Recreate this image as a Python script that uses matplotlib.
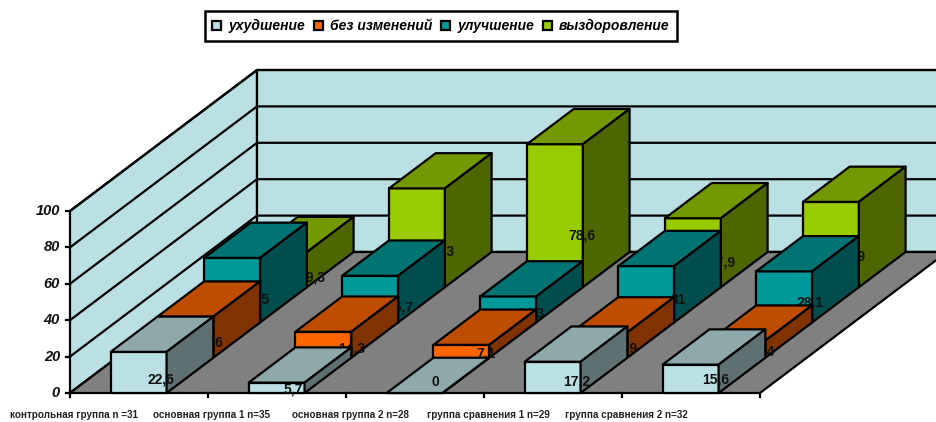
import matplotlib
matplotlib.use("Agg")
import matplotlib.pyplot as plt
from matplotlib.patches import Patch, Polygon


categories = ["контрольная группа n =31", "основная группа 1 n=35", "основная группа 2 n=28",
              "группа сравнения 1 n=29", "группа сравнения 2 n=32"]
series_names = ["ухудшение", "без изменений", "улучшение", "выздоровление"]
worse = [22.6, 5.7, 0, 17.2, 15.6]
same = [22.6, 14.3, 7.1, 13.9, 9.4]
better = [35.5, 25.7, 14.3, 31, 28.1]
recovery = [19.3, 54.3, 78.6, 37.9, 46.9]
y_ticks = [0, 20, 40, 60, 80, 100]

# pixel geometry of the oblique 3d box
X0, Y0 = 70, 393
CAT_W = 138
UNIT_H = 1.82
DEPTH_X, DEPTH_Y = 187 / 4, 141 / 4
BAR_START, BAR_W = 0.295, 0.405
LINE_W = 1.6

# front, top, side
colors = [("#BBE0E3", "#8FA8AA", "#5F7072"),
          ("#FF6600", "#BF4D00", "#803300"),
          ("#009999", "#007373", "#004D4D"),
          ("#99CC00", "#739900", "#4D6600")]

# label corrections (series, category): dx, dy
label_nudge = {(0, 0): (-2, 1), (0, 1): (-12, 0), (0, 2): (-13, -11), (0, 4): (1, -3),
               (1, 1): (4, 0), (1, 2): (-4, 0), (2, 1): (5, 2), (2, 2): (-2, 0),
               (2, 3): (2, -2), (2, 4): (1, -2),
               (3, 0): (8, 3), (3, 2): (3, 0), (3, 3): (5, 0), (3, 4): (-3, 0)}


def project(cat, series, value):
    x = X0 + cat * CAT_W + series * DEPTH_X
    y = Y0 - value * UNIT_H - series * DEPTH_Y
    return x, y


def face(ax, points, color, z):
    ax.add_patch(Polygon(points, closed=True, facecolor=color, edgecolor="black", linewidth=LINE_W,
                         joinstyle="round", zorder=z))


def draw_box(ax):
    wall = "#BBE0E3"
    face(ax, [project(0, 0, 0), project(0, 0, 100), project(0, 4, 100), project(0, 4, 0)], wall, 1)
    face(ax, [project(0, 4, 0), project(0, 4, 100), project(5, 4, 100), project(5, 4, 0)], wall, 1)
    face(ax, [project(0, 0, 0), project(5, 0, 0), project(5, 4, 0), project(0, 4, 0)], "#808080", 1.5)
    for t in y_ticks:
        ax.plot(*zip(project(0, 0, t), project(0, 4, t), project(5, 4, t)), color="black", lw=LINE_W, zorder=1.2)
        x, y = project(0, 0, t)
        ax.plot([x - 4, x], [y, y], color="black", lw=LINE_W, zorder=2)
        ax.text(x - 10, y, str(t), ha="right", va="center", fontsize=10.5, fontweight="bold",
                fontstyle="italic", color="#111111", zorder=2)
    for i in range(6):
        x, y = project(i, 0, 0)
        ax.plot([x, x], [y, y + 4], color="black", lw=LINE_W, zorder=2)
    for i, name in enumerate(categories):
        x, y = project(i, 0, 0)
        ax.text(x + 4, 415, name, ha="center", va="center", fontsize=7.1, fontweight="bold",
                color="#222222", zorder=2)


def draw_bar(ax, cat, series, value, z):
    c_front, c_top, c_side = colors[series]
    left = cat + BAR_START
    right = left + BAR_W
    face(ax, [project(left, series, 0), project(right, series, 0),
              project(right, series, value), project(left, series, value)], c_front, z)
    face(ax, [project(left, series, value), project(right, series, value),
              project(right, series + 1, value), project(left, series + 1, value)], c_top, z)
    face(ax, [project(right, series, 0), project(right, series + 1, 0),
              project(right, series + 1, value), project(right, series, value)], c_side, z)
    x, y = project(right, series, value / 2 - value * 0.14)
    dx, dy = label_nudge.get((series, cat), (0, 0))
    ax.text(x + 10 + dx, y + dy, str(value).replace(".", ","), ha="right", va="center", fontsize=10,
            fontweight="bold", color="#111111", zorder=z + 0.5)


def main():
    plt.rcParams["font.family"] = ["Liberation Sans", "DejaVu Sans"]
    fig = plt.figure(figsize=(9.37, 4.22), dpi=100)
    ax = fig.add_axes([0, 0, 1, 1])
    ax.set_xlim(0, 937)
    ax.set_ylim(422, 0)
    ax.axis("off")

    draw_box(ax)
    values = [worse, same, better, recovery]
    for series in range(3, -1, -1):
        z = 3 + (3 - series)
        for cat in range(len(categories)):
            draw_bar(ax, cat, series, values[series][cat], z)

    handles = [Patch(facecolor=colors[i][0], edgecolor="black", linewidth=LINE_W, label=series_names[i])
               for i in range(4)]
    leg = ax.legend(handles=handles, ncol=4, loc="center", bbox_to_anchor=(441, 26),
                    bbox_transform=ax.transData, handlelength=0.65, handleheight=0.65,
                    handletextpad=0.5, columnspacing=0.65, fancybox=False, framealpha=1,
                    edgecolor="black", borderpad=0.55, borderaxespad=0,
                    prop={"size": 10, "weight": "bold", "style": "italic"})
    leg.get_frame().set_linewidth(1.8)
    leg.set_zorder(20)

    fig.savefig("out.png", dpi=100)


if __name__ == '__main__':
    main()
